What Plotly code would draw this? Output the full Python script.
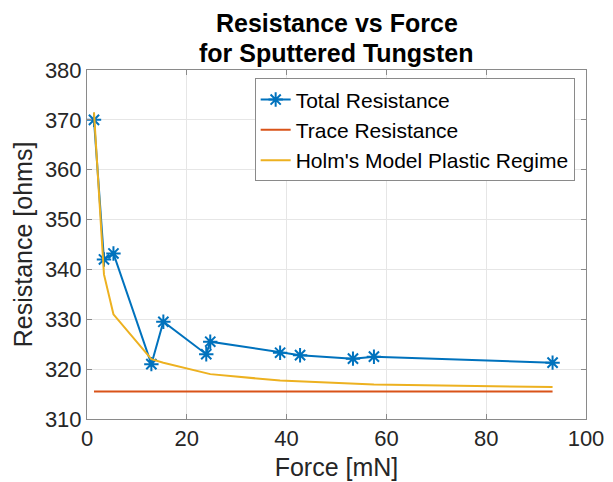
import plotly.graph_objects as go

# Data
force_mN = [1.4, 3.4, 5.3, 12.9, 15.3, 23.9, 24.7, 38.7, 42.7, 53.3, 57.5, 93.3]
total_resistance = [370.0, 342.0, 343.2, 321.0, 329.5, 323.0, 325.5, 323.3, 322.8, 322.1, 322.5, 321.3]
trace_resistance = [315.5] * len(force_mN)
holm_plastic = [371.5, 339.0, 331.0, 322.0, 321.3, 319.1, 319.0, 317.7, 317.5, 317.1, 316.9, 316.4]

x_ticks = [0, 20, 40, 60, 80, 100]
y_ticks = [310, 320, 330, 340, 350, 360, 370, 380]
title_lines = ["Resistance vs Force", "for Sputtered Tungsten"]

FONT = "Liberation Sans, Arial, Helvetica, sans-serif"
BLUE = "#0072BD"
RED = "#D95319"
YELLOW = "#EDB120"

fig = go.Figure()
fig.add_trace(go.Scatter(
    x=force_mN, y=total_resistance, name="Total Resistance",
    mode="lines+markers",
    line=dict(color=BLUE, width=2),
    marker=dict(symbol="asterisk-open", size=12, color=BLUE, line=dict(color=BLUE, width=2)),
))
fig.add_trace(go.Scatter(
    x=force_mN, y=trace_resistance, name="Trace Resistance",
    mode="lines", line=dict(color=RED, width=2),
))
fig.add_trace(go.Scatter(
    x=force_mN, y=holm_plastic, name="Holm's Model Plastic Regime",
    mode="lines", line=dict(color=YELLOW, width=2),
))

axis_common = dict(
    showline=True, linecolor="#8a8a8a", linewidth=1, mirror="allticks",
    ticks="inside", ticklen=5, tickwidth=1, tickcolor="#8a8a8a",
    showgrid=True, gridcolor="#e6e6e6", gridwidth=1, zeroline=False,
    tickfont=dict(family=FONT, size=22, color="#262626"),
    automargin=False,
)

H = 482
T, B = 70, 62.5
plot_h = H - T - B

def paper_y(px):
    return (H - B - px) / plot_h

fig.update_layout(
    width=613, height=H,
    margin=dict(l=86.5, r=27, t=T, b=B),
    paper_bgcolor="white", plot_bgcolor="white",
    font=dict(family=FONT, color="#262626"),
    xaxis=dict(
        range=[0, 100], tickvals=x_ticks,
        title=dict(text="Force [mN]", font=dict(family=FONT, size=25, color="#262626"), standoff=8),
        **axis_common,
    ),
    yaxis=dict(
        range=[310, 380], tickvals=y_ticks,
        title=dict(text="Resistance [ohms]", font=dict(family=FONT, size=25, color="#262626"), standoff=5),
        **axis_common,
    ),
    legend=dict(
        x=0.336, y=0.976, xanchor="left", yanchor="top",
        bgcolor="white", bordercolor="#8a8a8a", borderwidth=1,
        font=dict(family=FONT, size=21, color="black"),
        tracegroupgap=0, itemwidth=30,
    ),
    showlegend=True,
)

for text, center_px in zip(title_lines, [23, 53]):
    fig.add_annotation(
        text="<b>%s</b>" % text, showarrow=False,
        xref="paper", yref="paper", x=0.5, y=paper_y(center_px),
        xanchor="center", yanchor="middle",
        font=dict(family=FONT, size=25, color="black"),
    )

fig.write_html(
    "out.html",
    config={"displayModeBar": False},
    post_script="document.body.style.margin='0';document.body.style.padding='0';",
)
